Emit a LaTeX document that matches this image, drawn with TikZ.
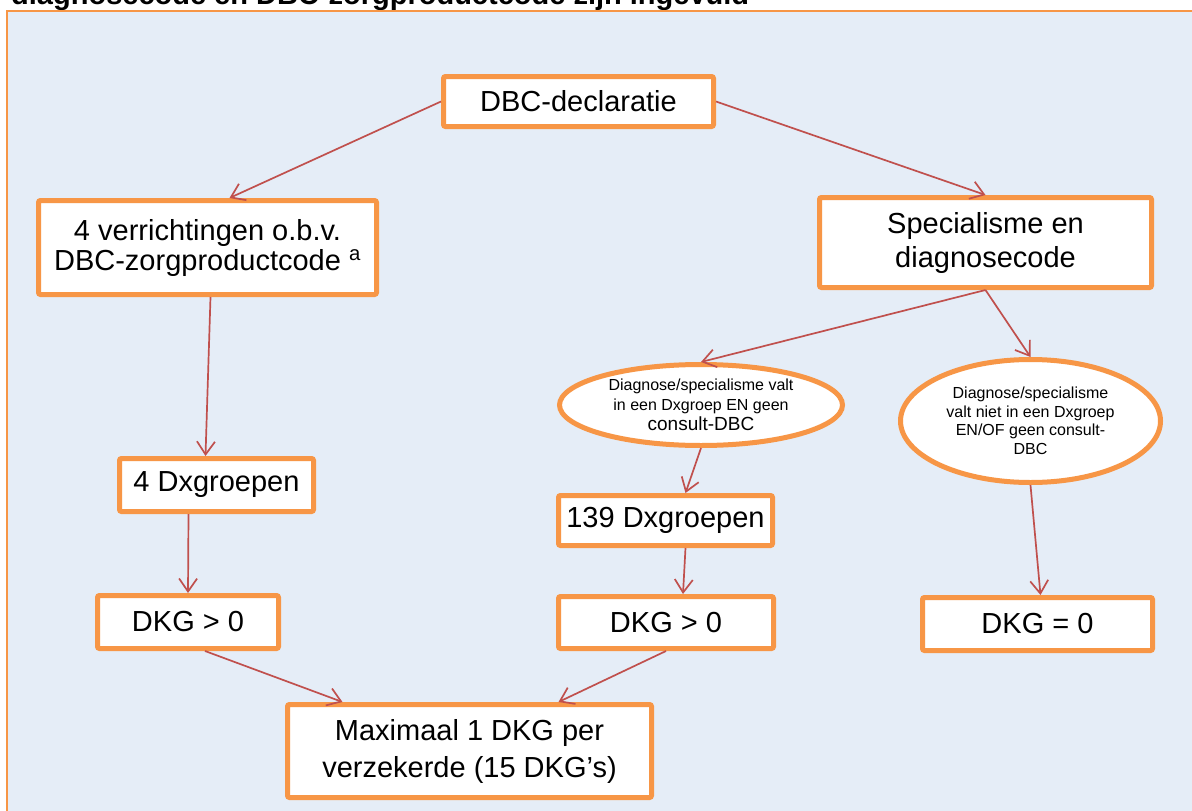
\documentclass[tikz,border=0pt]{standalone}
\usepackage{fontspec}
\setmainfont{Liberation Sans}
\usetikzlibrary{arrows.meta,shapes.geometric}
\definecolor{bgblue}{HTML}{E5EDF7}
\definecolor{boxorange}{HTML}{F79646}
\definecolor{arrowred}{HTML}{C0504D}
\tikzset{
  box/.style={draw=boxorange, line width=5pt, fill=white, rounded corners=2pt,
    inner sep=0pt, align=center, font=\fontsize{29}{31}\selectfont},
  oval/.style={ellipse, draw=boxorange, line width=5pt, fill=white,
    inner sep=0pt, align=center, font=\fontsize{16}{18.5}\selectfont},
  conn/.style={draw=arrowred, line width=1.7pt,
    -{Straight Barb[length=13pt,width=18pt,line width=1.7pt]}}
}
\begin{document}
\begin{tikzpicture}[x=1pt,y=-1pt]
\useasboundingbox (0,0) rectangle (1192,811);
\clip (0,0) rectangle (1192,811);
% title (cut off at top, as in the reference)
\node[anchor=base west, inner sep=0pt, font=\fontsize{29}{31}\selectfont\bfseries] (title) at (11,5) {diagnosecode en DBC-zorgproductcode zijn ingevuld};
% background frame
\filldraw[fill=bgblue, draw=boxorange, line width=2pt] (7,11) rectangle (1210,830);
% nodes
\node[box, minimum width=270pt, minimum height=50pt] (decl) at (578.5,101.5) {DBC-declaratie};
\node[box, minimum width=338pt, minimum height=94pt, font=\fontsize{29}{30}\selectfont] (verr) at (207.5,247.5) {4 verrichtingen o.b.v.\\DBC-zorgproductcode \textsuperscript{a}};
\node[box, minimum width=332pt, minimum height=90pt, font=\fontsize{29}{34}\selectfont] (spec) at (985.5,242.5) {Specialisme en\\diagnosecode};
\node[oval, minimum width=283pt, minimum height=81pt, font=\fontsize{16}{20}\selectfont] (ell1) at (701,405) {Diagnose/specialisme valt\\in een Dxgroep EN geen\\{\fontsize{19}{20}\selectfont consult-DBC}};
\node[oval, minimum width=260pt, minimum height=123pt] (ell2) at (1030.5,421) {Diagnose/specialisme\\valt niet in een Dxgroep\\EN/OF geen consult-\\DBC};
\node[box, minimum width=194pt, minimum height=53pt] (dx4) at (216.5,485) {4 Dxgroepen};
\node[box, minimum width=214pt, minimum height=50pt] (dx139) at (665.5,520.5) {139 Dxgroepen};
\node[box, minimum width=181pt, minimum height=53pt] (dkgL) at (188,622) {DKG > 0};
\node[box, minimum width=215pt, minimum height=52pt] (dkgM) at (666,622.5) {DKG > 0};
\node[box, minimum width=230pt, minimum height=53pt] (dkg0) at (1037.5,624) {DKG = 0};
\node[box, minimum width=364pt, minimum height=93pt, font=\fontsize{29}{37}\selectfont] (max) at (469.5,751) {Maximaal 1 DKG per\\verzekerde (15 DKG’s)};
% connectors
\draw[conn] (decl.west) -- ([xshift=22pt]verr.north);
\draw[conn] (decl.east) -- (spec.north);
\draw[conn] ([xshift=3pt]verr.south) -- ([xshift=-11pt]dx4.north);
\draw[conn] ([xshift=-28pt]dx4.south) -- (dkgL.north);
\draw[conn] (spec.south) -- (ell1.north);
\draw[conn] (spec.south) -- (ell2.north);
\draw[conn] (ell1.south) -- ([xshift=20pt]dx139.north);
\draw[conn] ([xshift=20pt]dx139.south) -- ([xshift=17pt]dkgM.north);
\draw[conn] (ell2.south) -- ([xshift=3pt]dkg0.north);
\draw[conn] ([xshift=17pt]dkgL.south) -- ([xshift=-127pt]max.north);
\draw[conn] (dkgM.south) -- ([xshift=89pt]max.north);
\end{tikzpicture}
\end{document}
